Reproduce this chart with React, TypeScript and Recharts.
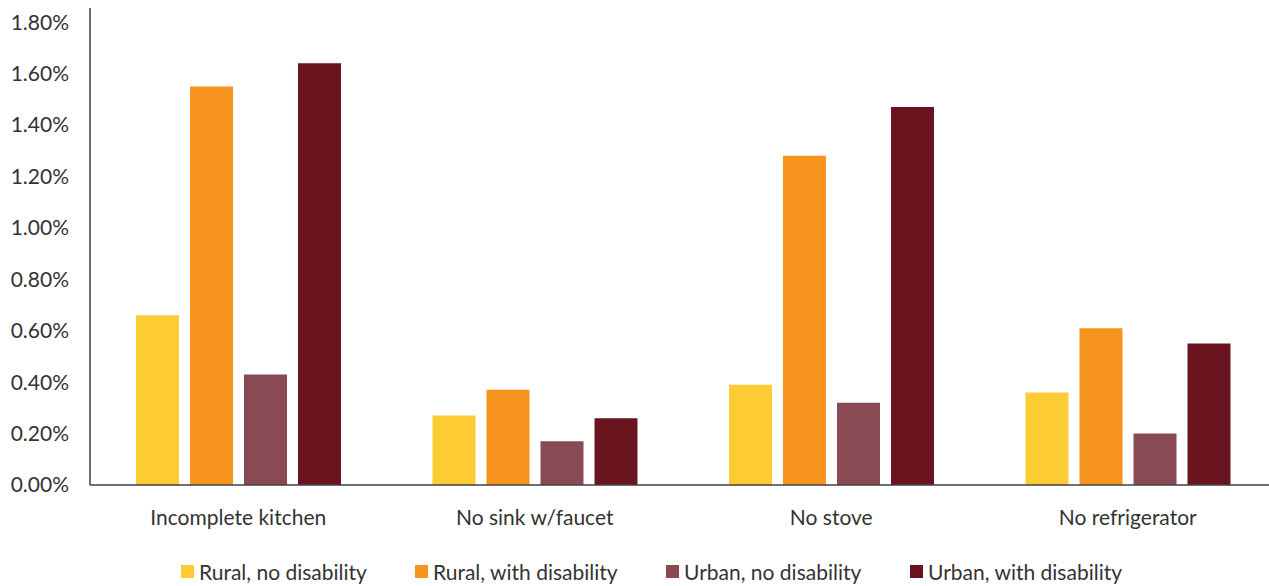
import { BarChart, Bar, XAxis, YAxis, Legend } from 'recharts';

const categories = ['Incomplete kitchen', 'No sink w/faucet', 'No stove', 'No refrigerator'];
const ruralNoDisability = [0.66, 0.27, 0.39, 0.36];
const ruralWithDisability = [1.55, 0.37, 1.28, 0.61];
const urbanNoDisability = [0.43, 0.17, 0.32, 0.2];
const urbanWithDisability = [1.64, 0.26, 1.47, 0.55];
const yTicks = [0, 0.2, 0.4, 0.6, 0.8, 1.0, 1.2, 1.4, 1.6, 1.8];

const series = [
  { key: 'ruralNo', name: 'Rural, no disability', color: '#FDCB33', values: ruralNoDisability },
  { key: 'ruralWith', name: 'Rural, with disability', color: '#F7941E', values: ruralWithDisability },
  { key: 'urbanNo', name: 'Urban, no disability', color: '#8A4A53', values: urbanNoDisability },
  { key: 'urbanWith', name: 'Urban, with disability', color: '#6A1420', values: urbanWithDisability },
];

// horizontal slot each legend entry takes up
const legendSlots = [234, 251, 244, 260];

const data = categories.map((category, i) => {
  const row: Record<string, string | number> = { category };
  series.forEach((s) => {
    row[s.key] = s.values[i];
  });
  return row;
});

const FONT = 'Lato, "Noto Sans", sans-serif';

function LegendRow() {
  return (
    <div
      style={{
        display: 'flex',
        paddingLeft: 181,
        fontFamily: FONT,
        fontSize: 21,
        color: '#333',
        alignItems: 'center',
        height: 40,
        paddingTop: 32,
        boxSizing: 'border-box',
      }}
    >
      {series.map((s, i) => (
        <div key={s.key} style={{ display: 'flex', alignItems: 'center', width: legendSlots[i], flexShrink: 0 }}>
          <span style={{ width: 13, height: 13, background: s.color, marginRight: 5 }} />
          <span style={{ whiteSpace: 'nowrap' }}>{s.name}</span>
        </div>
      ))}
    </div>
  );
}

export default function App() {
  return (
    <div
      style={{
        position: 'fixed',
        left: 0,
        top: 0,
        width: 1269,
        height: 586,
        overflow: 'hidden',
        background: '#fff',
      }}
    >
      <BarChart
        width={1290}
        height={586}
        data={data}
        margin={{ top: 8, right: 14, left: 0, bottom: 11 }}
        barGap={11}
        barCategoryGap={46}
      >
        <XAxis
          dataKey="category"
          axisLine={{ stroke: '#404040', strokeWidth: 1.5 }}
          tickLine={false}
          tick={{ fill: '#333', fontSize: 21, fontFamily: FONT }}
          tickMargin={19}
          height={50}
        />
        <YAxis
          domain={[0, 1.855]}
          ticks={yTicks}
          tickFormatter={(v: number) => `${v.toFixed(2)}%`}
          axisLine={{ stroke: '#404040', strokeWidth: 1.5 }}
          tickLine={false}
          tick={{ fill: '#333', fontSize: 21, fontFamily: FONT }}
          tickMargin={15}
          width={90}
          interval={0}
        />
        <Legend verticalAlign="bottom" height={40} content={<LegendRow />} />
        {series.map((s) => (
          <Bar
            key={s.key}
            dataKey={s.key}
            name={s.name}
            fill={s.color}
            isAnimationActive={false}
          />
        ))}
      </BarChart>
    </div>
  );
}
